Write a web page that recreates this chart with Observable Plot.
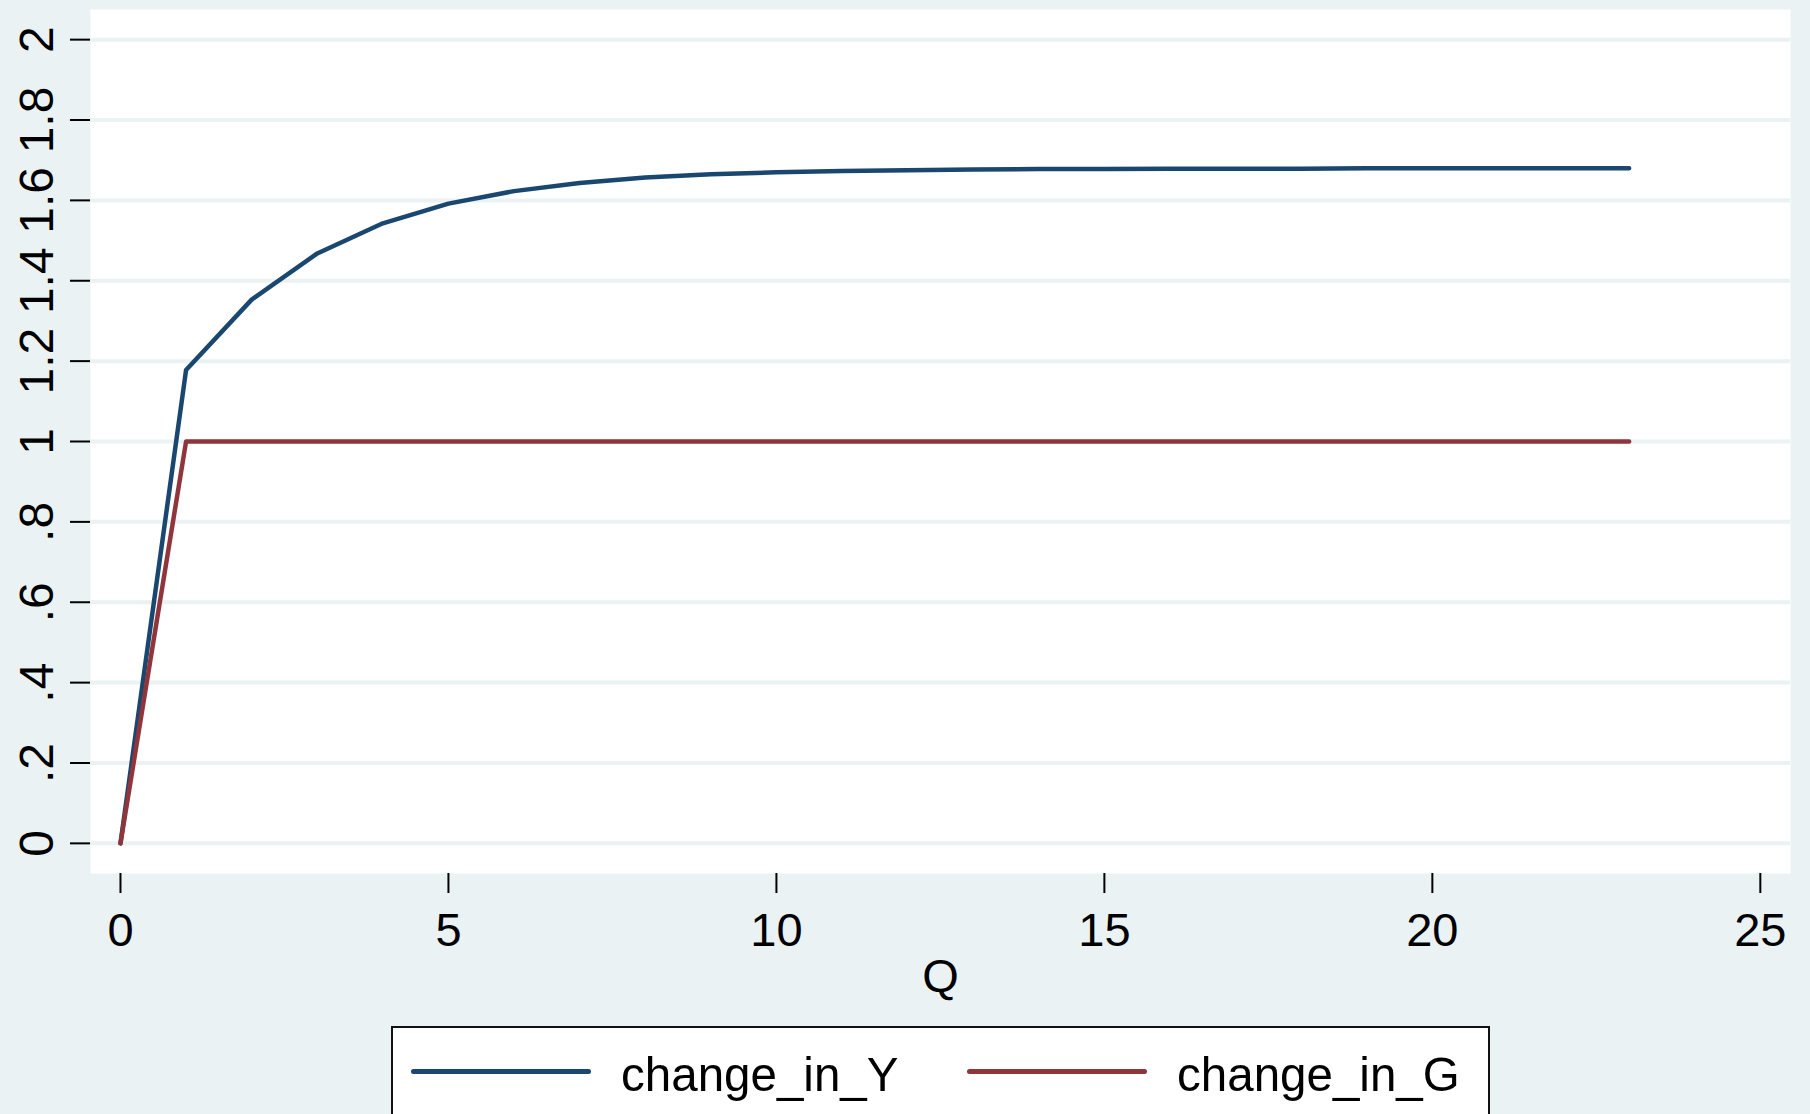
<!DOCTYPE html>
<html>
<head>
<meta charset="utf-8">
<script src="https://cdn.jsdelivr.net/npm/d3@7"></script>
<script src="https://cdn.jsdelivr.net/npm/@observablehq/plot@0.6"></script>
<style>
  html, body { margin: 0; padding: 0; background: #eaf2f3; width: 1810px; height: 1114px; overflow: hidden; font-family: "Liberation Sans", Arial, sans-serif; }
  #chart { position: absolute; left: 0; top: 0; }
  #legend { position: absolute; left: 391px; top: 1026px; width: 1099px; height: 120px; background: #fff; border: 2px solid #111; box-sizing: border-box; }
  .sw { position: absolute; top: 40.5px; width: 180px; height: 5px; border-radius: 2.5px; }
  .lt { position: absolute; top: 16px; font-size: 49px; line-height: 60px; color: #000; white-space: nowrap; transform: scaleX(0.97); transform-origin: 0 0; }
</style>
</head>
<body>
<div id="chart"></div>
<div id="legend"></div>
<script>
// ---- data ----
const Q = [0,1,2,3,4,5,6,7,8,9,10,11,12,13,14,15,16,17,18,19,20,21,22,23];
const changeInY = [0,1.178,1.353,1.468,1.543,1.592,1.623,1.643,1.657,1.665,1.670,1.673,1.675,1.677,1.678,1.678,1.679,1.679,1.679,1.680,1.680,1.680,1.680,1.680];
const changeInG = [0,1,1,1,1,1,1,1,1,1,1,1,1,1,1,1,1,1,1,1,1,1,1,1];
const seriesNames = ["change_in_Y", "change_in_G"];
const seriesColors = ["#1a476f", "#90353b"];
const xTicks = [0,5,10,15,20,25];
const yTicks = [0,0.2,0.4,0.6,0.8,1,1.2,1.4,1.6,1.8,2];

const rows = [];
Q.forEach((q, i) => {
  rows.push({Q: q, value: changeInY[i], series: seriesNames[0]});
  rows.push({Q: q, value: changeInG[i], series: seriesNames[1]});
});

const fmtY = d => d === 0 ? "0" : String(+d.toFixed(1)).replace(/^0\./, ".");

const plot = Plot.plot({
  width: 1810,
  height: 1010,
  marginLeft: 90,
  marginRight: 20,
  marginTop: 9,
  marginBottom: 137,
  style: {background: "#eaf2f3", fontFamily: "'Liberation Sans', Arial, sans-serif", fontSize: "47px", color: "#000"},
  x: {domain: [-0.457, 25.46], ticks: xTicks},
  y: {domain: [-0.075, 2.075], ticks: yTicks},
  color: {domain: seriesNames, range: seriesColors},
  marks: [
    Plot.frame({fill: "#ffffff", stroke: "none"}),
    Plot.gridY(yTicks, {stroke: "#eaf2f3", strokeOpacity: 1, strokeWidth: 4}),
    Plot.line(rows, {x: "Q", y: "value", z: "series", stroke: "series", strokeWidth: 4.5, strokeLinejoin: "round", strokeLinecap: "round"}),
    Plot.axisX({ticks: xTicks, tickSize: 20, tickPadding: 19, strokeWidth: 2, line: true, label: "Q", labelAnchor: "center", labelArrow: "none", labelOffset: 118, fontSize: 47}),
    Plot.axisY({ticks: yTicks, tickSize: 20, tickPadding: 18, tickRotate: -90, strokeWidth: 2, line: true, tickFormat: fmtY, label: null, fontSize: 48})
  ]
});
document.getElementById("chart").appendChild(plot);

// legend
const legend = document.getElementById("legend");
const swX = [18, 574];
const txX = [228, 784];
seriesNames.forEach((name, i) => {
  const sw = document.createElement("div");
  sw.className = "sw";
  sw.style.left = swX[i] + "px";
  sw.style.background = seriesColors[i];
  legend.appendChild(sw);
  const t = document.createElement("div");
  t.className = "lt";
  t.style.left = txX[i] + "px";
  t.textContent = name;
  legend.appendChild(t);
});
</script>
</body>
</html>
